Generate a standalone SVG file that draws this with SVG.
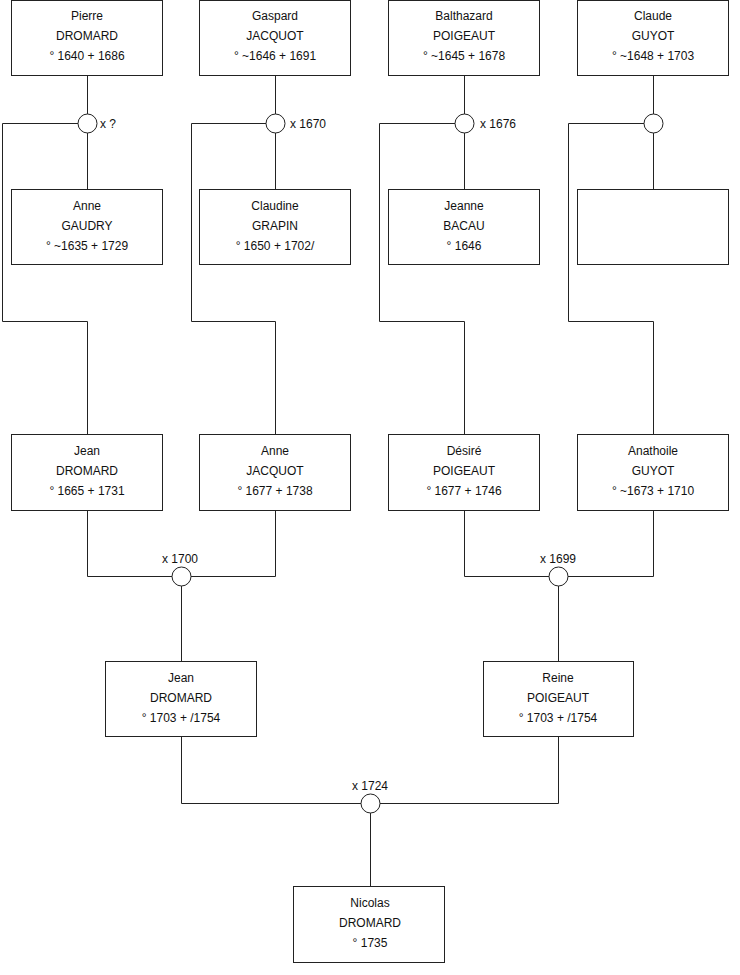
<svg xmlns="http://www.w3.org/2000/svg" width="740" height="975" viewBox="0 0 740 975">
<style>
rect.p{fill:#fff;stroke:#222;stroke-width:1}
circle.m{fill:#fff;stroke:#222;stroke-width:1}
.c path{fill:none;stroke:#222;stroke-width:1}
text{font-family:"Liberation Sans",Arial,sans-serif;font-size:12px;fill:#111}
text.n{text-anchor:middle}
</style>
<rect width="740" height="975" fill="#fff"/>
<g class="c" id="connectors">
<path d="M87.5 76V189.5M87.5 123.5H2.5V321.5H87.5V434.5"/>
<path d="M275.5 76V189.5M275.5 123.5H191.5V321.5H275.5V434.5"/>
<path d="M464.5 76V189.5M464.5 123.5H379.5V321.5H464.5V434.5"/>
<path d="M653.5 76V189.5M653.5 123.5H568.5V321.5H653.5V434.5"/>
<path d="M87.5 511V576.5H275.5V511M181.5 576.5V661.5"/>
<path d="M464.5 511V576.5H653.5V511M558.5 576.5V661.5"/>
<path d="M181.5 737V803.5H558.5V737M370.5 803.5V886.5"/>
</g>
<g id="m1"><circle class="m" cx="87.5" cy="123.5" r="9.5"/><text x="100" y="128">x ?</text></g>
<g id="m2"><circle class="m" cx="275.5" cy="123.5" r="9.5"/><text x="290" y="128">x 1670</text></g>
<g id="m3"><circle class="m" cx="464.5" cy="123.5" r="9.5"/><text x="480" y="128">x 1676</text></g>
<g id="m4"><circle class="m" cx="653.5" cy="123.5" r="9.5"/></g>
<g id="m5"><circle class="m" cx="181.5" cy="576.5" r="9.5"/><text class="n" x="180" y="563">x 1700</text></g>
<g id="m6"><circle class="m" cx="558.5" cy="576.5" r="9.5"/><text class="n" x="558" y="563">x 1699</text></g>
<g id="m7"><circle class="m" cx="370.5" cy="803.5" r="9.5"/><text class="n" x="370" y="790">x 1724</text></g>

<g id="pierre"><rect class="p" x="11.5" y="0.5" width="151" height="75"/><text class="n" x="87" y="20">Pierre</text><text class="n" x="87" y="40">DROMARD</text><text class="n" x="87" y="60">° 1640 + 1686</text></g>
<g id="gaspard"><rect class="p" x="199.5" y="0.5" width="151" height="75"/><text class="n" x="275" y="20">Gaspard</text><text class="n" x="275" y="40">JACQUOT</text><text class="n" x="275" y="60">° ~1646 + 1691</text></g>
<g id="balthazard"><rect class="p" x="388.5" y="0.5" width="151" height="75"/><text class="n" x="464" y="20">Balthazard</text><text class="n" x="464" y="40">POIGEAUT</text><text class="n" x="464" y="60">° ~1645 + 1678</text></g>
<g id="claude"><rect class="p" x="577.5" y="0.5" width="151" height="75"/><text class="n" x="653" y="20">Claude</text><text class="n" x="653" y="40">GUYOT</text><text class="n" x="653" y="60">° ~1648 + 1703</text></g>

<g id="anne-gaudry"><rect class="p" x="11.5" y="189.5" width="151" height="75"/><text class="n" x="87" y="210">Anne</text><text class="n" x="87" y="230">GAUDRY</text><text class="n" x="87" y="250">° ~1635 + 1729</text></g>
<g id="claudine"><rect class="p" x="199.5" y="189.5" width="151" height="75"/><text class="n" x="275" y="210">Claudine</text><text class="n" x="275" y="230">GRAPIN</text><text class="n" x="275" y="250">° 1650 + 1702/</text></g>
<g id="jeanne"><rect class="p" x="388.5" y="189.5" width="151" height="75"/><text class="n" x="464" y="210">Jeanne</text><text class="n" x="464" y="230">BACAU</text><text class="n" x="464" y="250">° 1646</text></g>
<g id="unknown"><rect class="p" x="577.5" y="189.5" width="151" height="75"/></g>

<g id="jean1"><rect class="p" x="11.5" y="434.5" width="151" height="76"/><text class="n" x="87" y="455">Jean</text><text class="n" x="87" y="475">DROMARD</text><text class="n" x="87" y="495">° 1665 + 1731</text></g>
<g id="anne-jacquot"><rect class="p" x="199.5" y="434.5" width="151" height="76"/><text class="n" x="275" y="455">Anne</text><text class="n" x="275" y="475">JACQUOT</text><text class="n" x="275" y="495">° 1677 + 1738</text></g>
<g id="desire"><rect class="p" x="388.5" y="434.5" width="151" height="76"/><text class="n" x="464" y="455">Désiré</text><text class="n" x="464" y="475">POIGEAUT</text><text class="n" x="464" y="495">° 1677 + 1746</text></g>
<g id="anathoile"><rect class="p" x="577.5" y="434.5" width="151" height="76"/><text class="n" x="653" y="455">Anathoile</text><text class="n" x="653" y="475">GUYOT</text><text class="n" x="653" y="495">° ~1673 + 1710</text></g>

<g id="jean2"><rect class="p" x="105.5" y="661.5" width="151" height="75"/><text class="n" x="181" y="682">Jean</text><text class="n" x="181" y="702">DROMARD</text><text class="n" x="181" y="722">° 1703 + /1754</text></g>
<g id="reine"><rect class="p" x="483.5" y="661.5" width="150" height="75"/><text class="n" x="558" y="682">Reine</text><text class="n" x="558" y="702">POIGEAUT</text><text class="n" x="558" y="722">° 1703 + /1754</text></g>

<g id="nicolas"><rect class="p" x="293.5" y="886.5" width="151" height="76"/><text class="n" x="370" y="907">Nicolas</text><text class="n" x="370" y="927">DROMARD</text><text class="n" x="370" y="947">° 1735</text></g>
</svg>
